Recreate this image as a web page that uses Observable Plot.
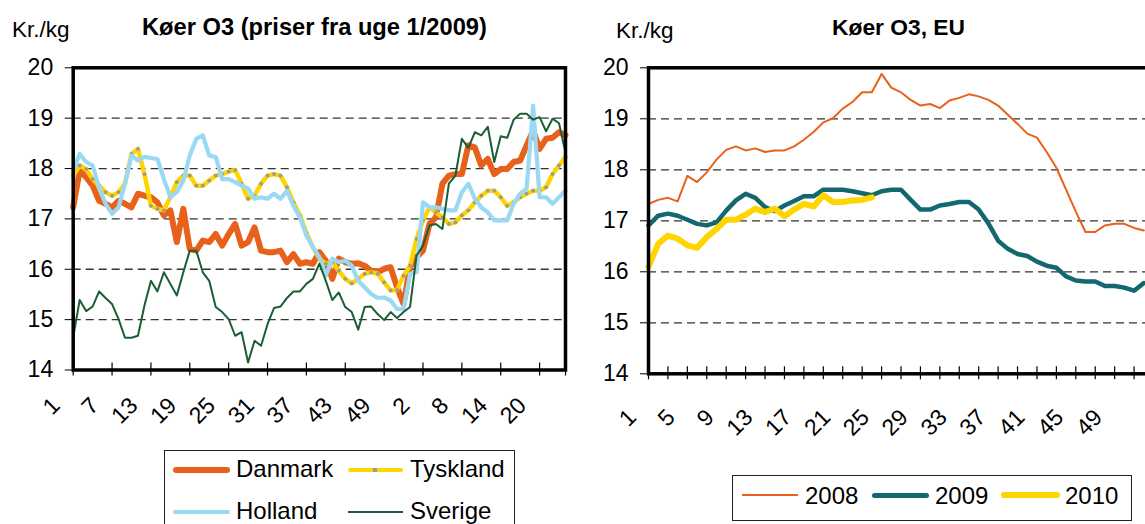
<!DOCTYPE html>
<html><head><meta charset="utf-8">
<script src="https://cdn.jsdelivr.net/npm/d3@7"></script>
<script src="https://cdn.jsdelivr.net/npm/@observablehq/plot@0.6"></script>
<style>
html,body{margin:0;padding:0;background:#fff;overflow:hidden;width:1145px;height:524px;}
body{position:relative;font-family:"Liberation Sans",Arial,sans-serif;color:#000;}
.abs{position:absolute;white-space:nowrap;line-height:1;}
.panel{position:absolute;top:0;}
.panel svg{max-width:none !important;display:block;}
.legbox{position:absolute;border:1px solid #222;background:#fff;}
.sw{position:absolute;border-radius:3px;}
</style></head><body>
<div class="panel" id="left" style="left:0;width:580px"></div>
<div class="panel" id="right" style="left:580px;width:583px"></div>

<div class="abs" style="left:12px;top:19px;font-size:22.5px">Kr./kg</div>
<div class="abs" style="left:142px;top:16px;font-size:23.7px;font-weight:bold">Køer O3 (priser fra uge 1/2009)</div>
<div class="abs" style="left:616px;top:20px;font-size:22.5px">Kr./kg</div>
<div class="abs" style="left:832px;top:16px;font-size:22.8px;font-weight:bold">Køer O3, EU</div>

<div class="legbox" style="left:164px;top:450px;width:349px;height:100px"></div>
<div class="sw" style="left:173px;top:467px;width:57px;height:6px;background:#E8611A"></div>
<div class="abs" style="left:236px;top:457px;font-size:24px">Danmark</div>
<div class="sw" style="left:348px;top:468px;width:55px;height:4px;background:#FFD500"></div>
<div class="sw" style="left:373px;top:468px;width:4px;height:4px;background:#999;border-radius:0"></div>
<div class="abs" style="left:410px;top:457px;font-size:24px">Tyskland</div>
<div class="sw" style="left:173px;top:510px;width:57px;height:4px;background:#9AD8F4"></div>
<div class="abs" style="left:236px;top:499px;font-size:24px">Holland</div>
<div class="sw" style="left:348px;top:511px;width:55px;height:2px;background:#1B5E33;border-radius:0"></div>
<div class="abs" style="left:410px;top:499px;font-size:24px">Sverige</div>

<div class="legbox" style="left:732px;top:475px;width:398px;height:44px"></div>
<div class="sw" style="left:742px;top:494px;width:56px;height:2px;background:#E8611A;border-radius:0"></div>
<div class="abs" style="left:805px;top:484px;font-size:24px">2008</div>
<div class="sw" style="left:872px;top:493px;width:57px;height:4.5px;background:#13676F"></div>
<div class="abs" style="left:935px;top:484px;font-size:24px">2009</div>
<div class="sw" style="left:1001px;top:492px;width:59px;height:6px;background:#FFD500"></div>
<div class="abs" style="left:1065px;top:484px;font-size:24px">2010</div>

<script>
// ---------- Data: left panel (index 1..77 = uge 1/2009 .. uge 24/2010) ----------
const danmark = [17.23,17.96,17.83,17.66,17.36,17.30,17.23,17.36,17.30,17.23,17.50,17.46,17.43,17.33,17.07,17.17,16.54,17.20,16.40,16.37,
  16.57,16.54,16.70,16.47,16.70,16.90,16.47,16.54,16.83,16.37,16.34,16.34,16.37,16.14,16.30,16.11,16.14,16.11,16.34,16.17,
  15.81,16.21,16.14,16.11,16.12,16.07,15.97,15.94,16.01,16.04,15.64,15.31,16.04,16.24,16.37,16.90,17.03,17.70,17.86,17.89,
  17.89,18.46,18.42,18.06,18.19,17.89,17.99,17.99,18.13,18.16,18.46,18.75,18.39,18.59,18.61,18.72,18.66];
const tyskland = [17.86,18.06,17.99,17.79,17.66,17.53,17.46,17.53,17.70,18.29,18.39,17.89,17.26,17.20,17.17,17.43,17.73,17.86,17.86,17.66,
  17.66,17.76,17.86,17.89,17.94,17.97,17.70,17.40,17.46,17.70,17.86,17.89,17.86,17.63,17.33,17.07,16.72,16.44,16.21,16.11,
  16.14,15.97,15.81,15.72,15.81,15.91,15.94,15.91,15.74,15.58,15.59,15.87,16.07,16.60,16.97,17.23,17.13,17.03,16.90,16.93,
  17.07,17.17,17.33,17.46,17.56,17.56,17.43,17.26,17.33,17.43,17.50,17.56,17.56,17.63,17.89,18.06,18.23];
const holland = [17.96,18.29,18.13,18.06,17.63,17.30,17.10,17.23,17.70,18.26,18.16,18.23,18.21,18.19,17.79,17.43,17.53,17.76,18.26,18.59,
  18.66,18.26,18.23,17.79,17.79,17.73,17.66,17.60,17.40,17.43,17.40,17.50,17.40,17.56,17.26,17.03,16.67,16.44,16.24,15.87,
  16.21,16.14,16.17,16.07,15.77,15.64,15.51,15.43,15.44,15.38,15.21,15.21,15.91,15.94,17.33,17.23,17.23,17.20,17.17,17.17,
  17.53,17.70,17.40,17.23,17.13,16.97,16.97,16.97,17.30,17.50,17.60,19.25,17.43,17.43,17.30,17.43,17.56];
const sverige = [14.65,15.39,15.17,15.26,15.56,15.43,15.31,15.01,14.64,14.64,14.68,15.28,15.77,15.56,15.94,15.71,15.48,15.94,16.37,16.37,
  15.94,15.77,15.25,15.15,15.01,14.68,14.75,14.15,14.58,14.48,14.91,15.23,15.26,15.43,15.56,15.56,15.71,15.81,16.11,15.77,
  15.39,15.54,15.25,15.15,14.80,15.25,15.26,15.11,14.99,15.15,15.03,15.15,15.25,16.27,16.47,16.87,16.90,16.80,17.70,17.86,
  18.59,18.41,18.72,18.66,18.83,18.13,18.64,18.61,18.97,19.09,19.09,18.97,19.02,18.74,18.99,18.90,18.32];
const leftTickIdx = [1,7,13,19,25,31,37,43,49,55,61,67,73];
const leftTickLabels = ["1","7","13","19","25","31","37","43","49","2","8","14","20"];

// ---------- Data: right panel (uge 1..52) ----------
const y2008 = [17.33,17.41,17.45,17.38,17.88,17.76,17.95,18.20,18.39,18.46,18.38,18.42,18.35,18.38,18.38,18.46,18.59,18.74,18.93,19.01,
  19.20,19.33,19.52,19.52,19.88,19.61,19.52,19.37,19.26,19.29,19.21,19.36,19.41,19.48,19.44,19.37,19.26,19.08,18.90,18.71,
  18.63,18.35,18.04,17.61,17.18,16.78,16.78,16.91,16.94,16.94,16.86,16.81];
const y2009 = [16.91,17.10,17.14,17.10,17.02,16.94,16.91,16.97,17.20,17.40,17.53,17.45,17.27,17.19,17.30,17.39,17.48,17.48,17.61,17.61,
  17.61,17.58,17.54,17.50,17.58,17.61,17.61,17.41,17.22,17.22,17.30,17.33,17.37,17.37,17.22,16.95,16.61,16.45,16.35,16.31,
  16.20,16.12,16.08,15.91,15.83,15.81,15.81,15.72,15.72,15.69,15.63,15.78];
const y2010 = [16.10,16.55,16.71,16.65,16.52,16.47,16.68,16.84,17.02,17.02,17.12,17.24,17.17,17.24,17.09,17.22,17.33,17.28,17.50,17.37,
  17.37,17.40,17.41,17.46];
const rightTickMarks = [1,3,5,7,9,11,13,15,17,19,21,23,25,27,29,31,33,35,37,39,41,43,45,47,49,51,53];
const rightTickLabels = ["1","5","9","13","17","21","25","29","33","37","41","45","49"];

const yTicks = [14,15,16,17,18,19,20];
const gridVals = [15,16,17,18,19];

const toRows = arr => arr.map((v, k) => ({i: k + 1, v}));
const font = "'Liberation Sans', Arial, sans-serif";

// ---------- Left chart ----------
const leftTicks = leftTickIdx.map((i, k) => ({i, label: leftTickLabels[k]}));
const left = Plot.plot({
  width: 580, height: 440,
  marginLeft: 72.7, marginRight: 15, marginTop: 67.3, marginBottom: 70.5,
  x: {domain: [1, 77], axis: null},
  y: {domain: [14, 20], axis: null},
  style: {fontFamily: font, fontSize: "23px", color: "#000", background: "transparent", overflow: "visible"},
  marks: [
    Plot.ruleY(gridVals, {stroke: "#333", strokeWidth: 1.3, strokeDasharray: "8,5"}),
    Plot.line(toRows(danmark), {x: "i", y: "v", stroke: "#E8611A", strokeWidth: 6, strokeLinejoin: "round"}),
    Plot.line(toRows(tyskland), {x: "i", y: "v", stroke: "#FFD500", strokeWidth: 4.5, strokeLinejoin: "round"}),
    Plot.dot(toRows(tyskland), {x: "i", y: "v", r: 1.9, fill: "#9a9a9a"}),
    Plot.line(toRows(holland), {x: "i", y: "v", stroke: "#9AD8F4", strokeWidth: 4.2, strokeLinejoin: "round"}),
    Plot.line(toRows(sverige), {x: "i", y: "v", stroke: "#1B5E33", strokeWidth: 2, strokeLinejoin: "round"}),
    Plot.ruleX(leftTickIdx, {x: d => d, stroke: "#000", strokeWidth: 1.2, insetTop: 302.2 - 7, insetBottom: -6}),
    Plot.ruleX([77], {x: d => d, stroke: "#000", strokeWidth: 1.2, insetTop: 302.2 - 7, insetBottom: -6}),
    Plot.axisY({ticks: yTicks, tickSize: 8, tickPadding: 12, fontSize: 23, label: null, tickFormat: d => String(d)}),
    Plot.text(leftTicks, {x: "i", text: "label", frameAnchor: "bottom", rotate: -45, textAnchor: "end", dx: -12, dy: 37, fontSize: 23}),
    Plot.frame({stroke: "#000", strokeWidth: 3.5})
  ]
});
document.getElementById("left").appendChild(left);

// ---------- Right chart ----------
const rightTicks = rightTickLabels.map(l => ({w: +l, label: l}));
const right = Plot.plot({
  width: 583, height: 440,
  marginLeft: 68, marginRight: 10, marginTop: 67.3, marginBottom: 66.7,
  x: {domain: [1, 53], axis: null},
  y: {domain: [14, 20], axis: null},
  style: {fontFamily: font, fontSize: "23px", color: "#000", background: "transparent", overflow: "visible"},
  marks: [
    Plot.ruleY(gridVals, {stroke: "#333", strokeWidth: 1.3, strokeDasharray: "8,5"}),
    Plot.line(toRows(y2008), {x: "i", y: "v", stroke: "#E8611A", strokeWidth: 2, strokeLinejoin: "round"}),
    Plot.line(toRows(y2009), {x: "i", y: "v", stroke: "#13676F", strokeWidth: 4.5, strokeLinejoin: "round"}),
    Plot.line(toRows(y2010), {x: "i", y: "v", stroke: "#FFD500", strokeWidth: 6, strokeLinejoin: "round"}),
    Plot.ruleX(rightTickMarks, {x: d => d, stroke: "#000", strokeWidth: 1.2, insetTop: 306 - 7, insetBottom: -6}),
    Plot.axisY({ticks: yTicks, tickSize: 8, tickPadding: 12, fontSize: 23, label: null, tickFormat: d => String(d)}),
    Plot.text(rightTicks, {x: "w", text: "label", frameAnchor: "bottom", rotate: -45, textAnchor: "end", dx: -11, dy: 45, fontSize: 23}),
    Plot.frame({stroke: "#000", strokeWidth: 3.5})
  ]
});
document.getElementById("right").appendChild(right);
</script>
</body></html>
